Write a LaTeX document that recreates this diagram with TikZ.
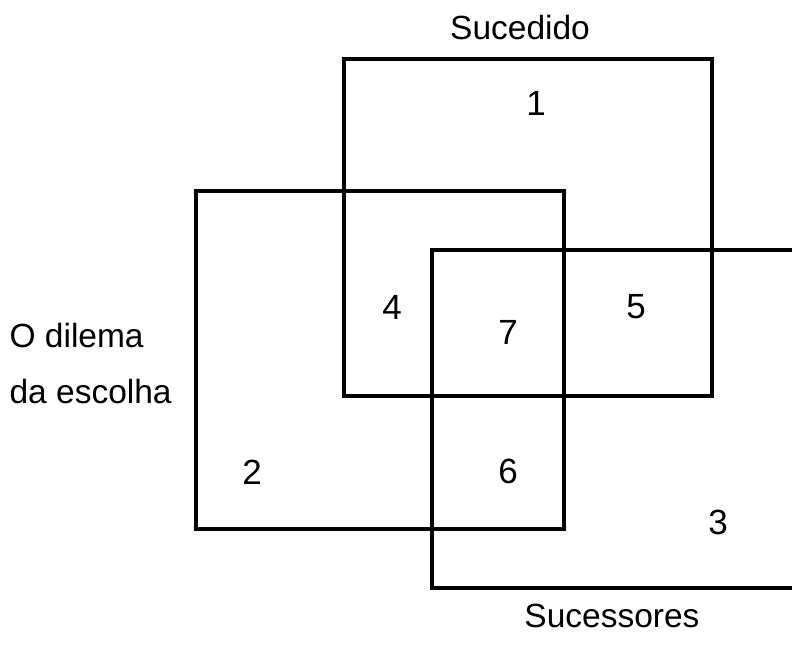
\documentclass[tikz,border=0pt]{standalone}
\usepackage{fontspec}
\setmainfont{Liberation Sans}
\begin{document}
\begin{tikzpicture}[x=1pt,y=-1pt,line width=3.2pt,
        num/.style={inner sep=0pt,font=\fontsize{35}{40}\selectfont},
        lbl/.style={inner sep=0pt,font=\fontsize{33.5}{56}\selectfont}]
        \useasboundingbox (0,0) rectangle (792,646);
        % corners of the three sets
        \coordinate (suc1) at (344,59);
        \coordinate (suc2) at (712,396);
        \coordinate (dil1) at (196,191);
        \coordinate (dil2) at (564,529);
        \coordinate (ssr1) at (432,250);
        \coordinate (ssr2) at (432,588);
        \draw (suc1) rectangle (suc2);
        \draw (dil1) rectangle (dil2);
        \draw (792,250) -- (ssr1) -- (ssr2) -- (792,588);
        % set names
        \node[lbl] (sucedido) at (520,28) {Sucedido};
        \node[lbl] (sucessores) at (612,616) {Sucessores};
        \node[lbl,align=left,anchor=west] (dilema) at (8,364) {O dilema\\da escolha};
        % regions
        \node[num] (r1) at (536,103) {1};
        \node[num] (r2) at (252,472) {2};
        \node[num] (r3) at (718,522) {3};
        \node[num] (r4) at (392,307) {4};
        \node[num] (r5) at (636,307) {5};
        \node[num] (r6) at (508,471) {6};
        \node[num] (r7) at (508,332) {7};
    \end{tikzpicture}
\end{document}
